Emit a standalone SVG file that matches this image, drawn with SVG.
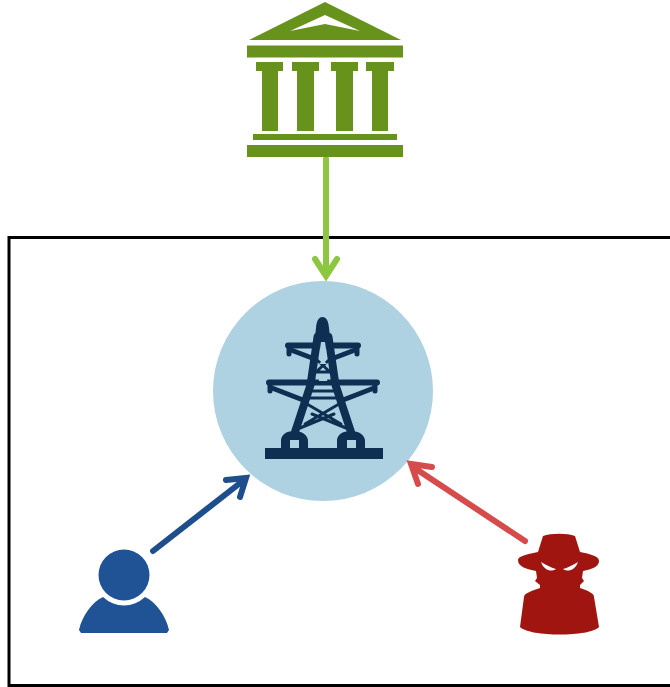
<svg xmlns="http://www.w3.org/2000/svg" width="670" height="687" viewBox="0 0 670 687">
<style>
.b{fill:#67921c}
.t{fill:none;stroke:#0f2f52;stroke-linecap:round;stroke-linejoin:round}
.a{fill:none;stroke-width:6;stroke-linecap:round;stroke-linejoin:miter}
</style>
<rect width="670" height="687" fill="#fff"/>
<rect id="boundary" x="9" y="237.500" width="680" height="448" fill="none" stroke="#000" stroke-width="3"/>
<g id="grid-node">
<circle cx="323" cy="391" r="110" fill="#aed2e2"/>
<path d="M322.500 317C318 317 316.500 322 316 328L314 345H331L329 328C328.500 322 327 317 322.500 317Z" fill="#0f2f52"/>
<g class="t">
<path stroke-width="6" d="M288 345.500H358M269 382.500H377"/>
<path stroke-width="5" d="M289 346V354M357 346V354M270 383V391M375 383V391"/>
<path stroke-width="5" d="M291 350L312 358M355 350L334 358M272 388L303 400M374 388L343 400"/>
<path stroke-width="8" d="M317.500 337L310.500 385L295 432M328.500 337L335.500 385L351 432"/>
<path stroke-width="3" d="M317 360L330 372M329 360L316 372M312 372H334M309 391H337M308 398H338M307 404L341 424M339 404L305 424M300 428L334 414M346 428L312 414"/>
</g>
<path fill-rule="evenodd" fill="#0f2f52" d="M265 448H281V441C281 435 286 431 294 431C302 431 308 435 308 441V448H337V441C337 435 342 431 351 431C359 431 365 435 365 441V448H383V459H265ZM290 440V448H299V440ZM347 440V448H356V440Z"/>
<path fill="#aed2e2" d="M321 342H325L326 349H320ZM319 364L323 360L327 364ZM318 375H328L327 381H319Z"/>
</g>
<g id="connectors">
<path class="a" stroke="#8dc63f" d="M326 159V274M315 259L326 276L337 259"/>
<path class="a" stroke="#1f4e8c" d="M153 551L244 480M226 480L246 478L240 497"/>
<path class="a" stroke="#d64b4b" d="M525 541L413 467M432 467L411 464L418 484"/>
</g>
<g id="government">
<path class="b" fill-rule="evenodd" d="M325 2L401 40H249ZM325 15L290 31L325 24L360 31Z"/>
<rect class="b" x="247" y="45.500" width="156" height="12"/>
<path class="b" d="M256 62H283V71H278V131H262V71H256Z"/>
<path class="b" d="M292 62H319V71H314V131H297V71H292Z"/>
<path class="b" d="M331 62H358V71H353V131H336V71H331Z"/>
<path class="b" d="M366 62H394V71H388V131H372V71H366Z"/>
<rect class="b" x="253" y="134" width="144" height="6"/>
<rect class="b" x="247" y="145" width="156" height="12"/>
</g>
<g id="user" fill="#1f5396">
<circle cx="124" cy="575" r="25.500"/>
<path d="M103 597A30.500 30.500 0 0 0 145 597C156 602 166 616 169 630L167 633H81L79 630C82 616 92 602 103 597Z"/>
</g>
<g id="attacker">
<path fill="#a01510" d="M543 536C551 533 567 533 575 536L580 552C590 554 599 556 599 561C599 567 592 569 583 571L582 578L584 581L580 585V588C588 591 594 593 594 597L599 627C590 637 530 637 520 627L524 597C524 593 532 591 540 588V585L535 581L537 578L536 571C527 569 518 567 518 560C518 556 529 554 538 552Z"/>
<path fill="#fff" d="M541 562C546 565 552 568 556 569C552 572 544 571 541 562ZM578 562C573 565 567 568 563 569C567 572 575 571 578 562Z"/>
</g>
</svg>
